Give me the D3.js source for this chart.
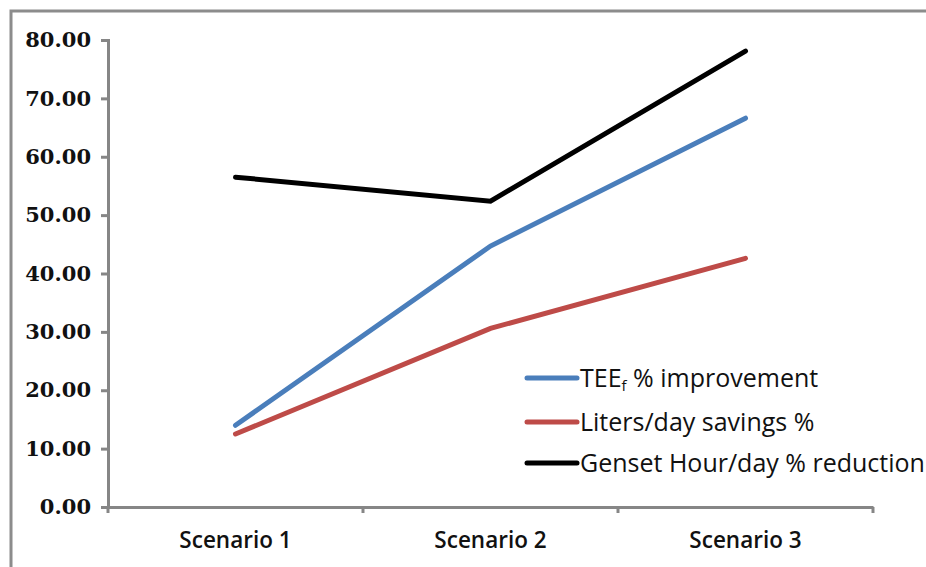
<!DOCTYPE html>
<html><head><meta charset="utf-8">
<script src="https://cdn.jsdelivr.net/npm/d3@7"></script>
<style>body{margin:0;background:#fff;overflow:hidden}</style>
</head><body>
<svg id="c" width="926" height="567"></svg>
<script>
const categories = ["Scenario 1", "Scenario 2", "Scenario 3"];
const teeImprovement = [14.0, 44.7, 66.6];
const litersSavings = [12.5, 30.6, 42.6];
const gensetReduction = [56.5, 52.4, 78.1];
const yTicks = [0, 10, 20, 30, 40, 50, 60, 70, 80];
const seriesNames = ["TEE", "Liters/day savings %", "Genset Hour/day % reduction"];
const seriesColors = ["#4a7ebb", "#be4b48", "#000000"];

(function () {
const svg = d3.select("#c");
svg.append("path").attr("d", "M11,567 V11 H926").attr("fill", "none")
  .attr("stroke", "#8c8c8c").attr("stroke-width", 3);

const mLeft = 108, mRight = 873, mTop = 40, mBottom = 507;
const x = d3.scaleBand().domain(categories).range([mLeft, mRight]);
const y = d3.scaleLinear().domain([0, 80]).range([mBottom, mTop]);

const ya = svg.append("g").attr("transform", `translate(${mLeft},0)`)
  .call(d3.axisLeft(y).tickValues(yTicks).tickFormat(d3.format(".2f")).tickSize(7).tickPadding(10));
ya.select(".domain").attr("stroke", "#868686").attr("stroke-width", 3);
ya.selectAll(".tick line").attr("stroke", "#868686").attr("stroke-width", 3);
ya.selectAll(".tick text").attr("font-family", "DejaVu Serif").attr("font-weight", "bold")
  .attr("font-size", 21).attr("fill", "#111");

const xa = svg.append("g").attr("transform", `translate(0,${mBottom})`)
  .call(d3.axisBottom(x).tickSize(0).tickPadding(25));
xa.select(".domain").attr("stroke", "#868686").attr("stroke-width", 3);
xa.selectAll(".tick text").attr("font-family", "Open Sans").attr("font-weight", 600)
  .attr("font-size", 22.5).attr("fill", "#111");
const bounds = [mLeft].concat(categories.map(c => x(c) + x.bandwidth()));
xa.selectAll(".bt").data(bounds).enter().append("line").attr("class", "bt")
  .attr("x1", d => d).attr("x2", d => d).attr("y1", 0).attr("y2", 6)
  .attr("stroke", "#868686").attr("stroke-width", 3);

const series = [teeImprovement, litersSavings, gensetReduction];
const line = d3.line().x((d, i) => x(categories[i]) + x.bandwidth() / 2).y(d => y(d));
series.forEach((s, k) => {
  svg.append("path").datum(s).attr("d", line).attr("fill", "none")
    .attr("stroke", seriesColors[k]).attr("stroke-width", 5).attr("stroke-linecap", "round");
});

const lg = svg.append("g");
const ly = [378, 422, 463];
series.forEach((s, k) => {
  lg.append("line").attr("x1", 527).attr("x2", 577).attr("y1", ly[k]).attr("y2", ly[k])
    .attr("stroke", seriesColors[k]).attr("stroke-width", 5).attr("stroke-linecap", "round");
  const t = lg.append("text").attr("x", 580).attr("y", ly[k] + 9)
    .attr("font-family", "Open Sans").attr("font-weight", 500).attr("font-size", 25).attr("fill", "#111");
  if (k === 0) {
    t.append("tspan").text("TEE");
    t.append("tspan").text("f").attr("font-size", 15).attr("dy", 4);
    t.append("tspan").text(" % improvement").attr("dy", -4);
  } else {
    t.text(seriesNames[k]);
  }
});
})();
</script>
</body></html>
